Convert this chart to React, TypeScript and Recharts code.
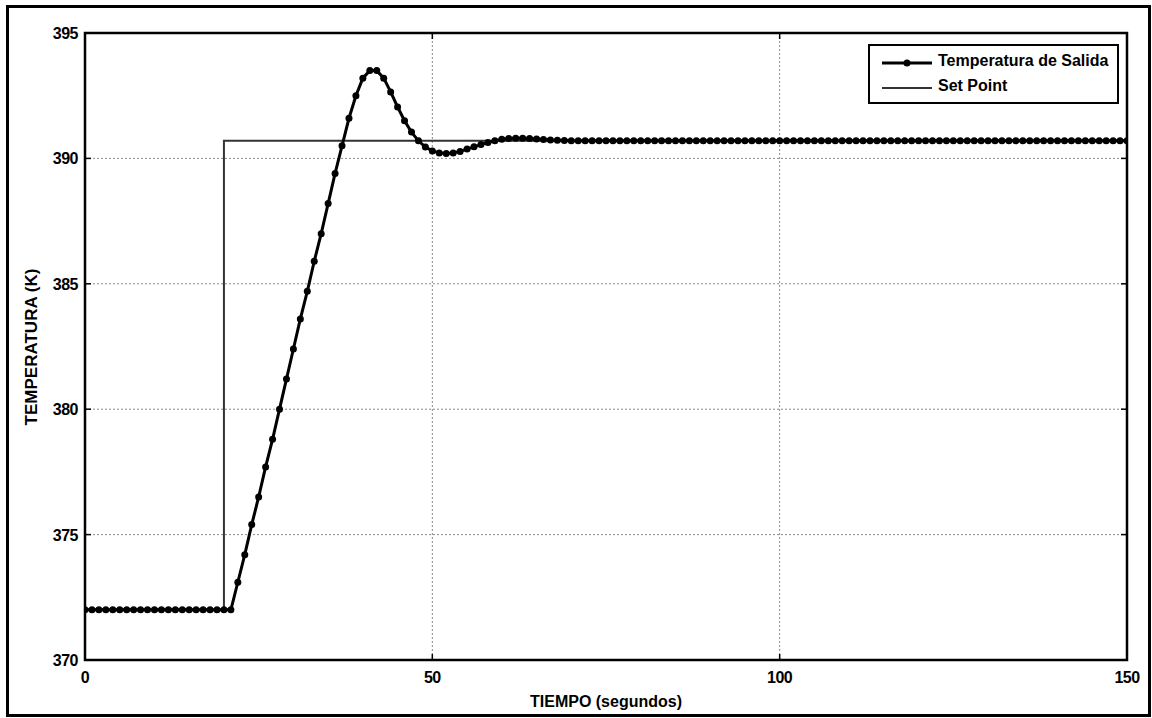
import React from "react";
import {
  LineChart,
  Line,
  XAxis,
  YAxis,
  CartesianGrid,
  Legend,
  ReferenceArea,
} from "recharts";

// Salida del reactor muestreada cada segundo, t = 0 … 150 s
const temperaturaSalida = [
  372, 372, 372, 372, 372, 372, 372, 372, 372, 372,
  372, 372, 372, 372, 372, 372, 372, 372, 372, 372,
  372, 372, 373.1, 374.2, 375.4, 376.5, 377.7, 378.8, 380.0, 381.2,
  382.4, 383.6, 384.7, 385.9, 387.0, 388.2, 389.4, 390.5, 391.6, 392.5,
  393.2, 393.5, 393.5, 393.2, 392.65, 392.05, 391.5, 391.05, 390.7, 390.45,
  390.3, 390.22, 390.2, 390.22, 390.28, 390.37, 390.46, 390.55, 390.63, 390.7,
  390.76, 390.79, 390.8, 390.8, 390.79, 390.77, 390.75, 390.73, 390.72, 390.71,
  390.7, 390.7, 390.7, 390.7, 390.7, 390.7, 390.7, 390.7, 390.7, 390.7,
  390.7, 390.7, 390.7, 390.7, 390.7, 390.7, 390.7, 390.7, 390.7, 390.7,
  390.7, 390.7, 390.7, 390.7, 390.7, 390.7, 390.7, 390.7, 390.7, 390.7,
  390.7, 390.7, 390.7, 390.7, 390.7, 390.7, 390.7, 390.7, 390.7, 390.7,
  390.7, 390.7, 390.7, 390.7, 390.7, 390.7, 390.7, 390.7, 390.7, 390.7,
  390.7, 390.7, 390.7, 390.7, 390.7, 390.7, 390.7, 390.7, 390.7, 390.7,
  390.7, 390.7, 390.7, 390.7, 390.7, 390.7, 390.7, 390.7, 390.7, 390.7,
  390.7, 390.7, 390.7, 390.7, 390.7, 390.7, 390.7, 390.7, 390.7, 390.7,
  390.7,
];

// escalón de referencia
const setPointTiempo = [0, 20, 150];
const setPointValor = [372, 390.7, 390.7];

const xTicks = [0, 50, 100, 150];
const yTicks = [370, 375, 380, 385, 390, 395];

const salidaData = temperaturaSalida.map((v, i) => ({ t: i, temp: v }));
const setPointData = setPointTiempo.map((t, i) => ({ t, sp: setPointValor[i] }));

const FONT = "'Liberation Sans', Arial, Helvetica, sans-serif";
const PLOT = { left: 85, top: 33, right: 1127, bottom: 660 };
const TICK_LEN = 6;

// ticks hacia dentro en los cuatro lados, estilo MATLAB
const YTick = ({ y, payload }: any) => (
  <g>
    <line x1={PLOT.left} x2={PLOT.left + TICK_LEN} y1={y} y2={y} stroke="#000" strokeWidth={1.5} />
    <line x1={PLOT.right - TICK_LEN} x2={PLOT.right} y1={y} y2={y} stroke="#000" strokeWidth={1.5} />
    <text
      x={PLOT.left - 7}
      y={y}
      dy={6}
      textAnchor="end"
      fontFamily={FONT}
      fontSize={16}
      fontWeight="bold"
      letterSpacing={-0.5}
      fill="#000"
    >
      {payload.value}
    </text>
  </g>
);

const XTick = ({ x, payload }: any) => (
  <g>
    <line x1={x} x2={x} y1={PLOT.bottom} y2={PLOT.bottom - TICK_LEN} stroke="#000" strokeWidth={1.5} />
    <line x1={x} x2={x} y1={PLOT.top} y2={PLOT.top + TICK_LEN} stroke="#000" strokeWidth={1.5} />
    <text
      x={x}
      y={PLOT.bottom + 23}
      textAnchor="middle"
      fontFamily={FONT}
      fontSize={16}
      fontWeight="bold"
      letterSpacing={-0.5}
      fill="#000"
    >
      {payload.value}
    </text>
  </g>
);

const LegendBox = () => (
  <div
    style={{
      position: "relative",
      width: 251,
      height: 60,
      boxSizing: "border-box",
      border: "2px solid #000",
      background: "#fff",
      fontFamily: FONT,
      fontSize: 16,
      fontWeight: "bold",
      color: "#000",
    }}
  >
    <svg width={60} height={60} style={{ position: "absolute", left: 10, top: 0 }}>
      <line x1={2} x2={52} y1={17} y2={17} stroke="#000" strokeWidth={3} />
      <circle cx={27} cy={17} r={3.5} fill="#000" />
      <line x1={2} x2={52} y1={42} y2={42} stroke="#333" strokeWidth={2} />
    </svg>
    <div style={{ position: "absolute", left: 68, top: 6, whiteSpace: "nowrap" }}>
      Temperatura de Salida
    </div>
    <div style={{ position: "absolute", left: 68, top: 31, whiteSpace: "nowrap" }}>
      Set Point
    </div>
  </div>
);

export default function App() {
  return (
    <div
      style={{
        position: "absolute",
        left: 0,
        top: 0,
        width: 1152,
        height: 718,
        background: "#fff",
        overflow: "hidden",
      }}
    >
      <LineChart
        width={1152}
        height={718}
        margin={{ top: PLOT.top, right: 1152 - PLOT.right, bottom: 28, left: 25 }}
      >
        <CartesianGrid
          stroke="#8a8a8a"
          strokeDasharray="2 2"
          strokeWidth={1}
        />
        <XAxis
          type="number"
          dataKey="t"
          domain={[0, 150]}
          ticks={xTicks}
          height={30}
          axisLine={false}
          tickLine={false}
          tick={<XTick />}
          allowDataOverflow
        />
        <YAxis
          type="number"
          domain={[370, 395]}
          ticks={yTicks}
          width={60}
          axisLine={false}
          tickLine={false}
          tick={<YTick />}
          allowDataOverflow
        />
        <ReferenceArea
          x1={0}
          x2={150}
          y1={370}
          y2={395}
          fill="none"
          stroke="#000"
          strokeWidth={2.5}
          ifOverflow="visible"
        />
        <Line
          data={setPointData}
          dataKey="sp"
          type="stepAfter"
          stroke="#333"
          strokeWidth={2}
          dot={false}
          name="Set Point"
          isAnimationActive={false}
        />
        <Line
          data={salidaData}
          dataKey="temp"
          type="linear"
          stroke="#000"
          strokeWidth={3}
          dot={{ r: 3.5, fill: "#000", stroke: "#000", strokeWidth: 0 }}
          name="Temperatura de Salida"
          isAnimationActive={false}
        />
        <Legend
          layout="vertical"
          align="center"
          verticalAlign="middle"
          content={<LegendBox />}
          wrapperStyle={{ position: "absolute", left: 868, top: 44, width: 251, height: 60 }}
        />
      </LineChart>

      {/* títulos de ejes */}
      <div
        style={{
          position: "absolute",
          left: 456,
          width: 300,
          top: 693,
          textAlign: "center",
          fontFamily: FONT,
          fontSize: 16,
          fontWeight: "bold",
          lineHeight: "18px",
        }}
      >
        TIEMPO (segundos)
      </div>
      <div
        style={{
          position: "absolute",
          left: 32,
          top: 347,
          transform: "translate(-50%, -50%) rotate(-90deg)",
          whiteSpace: "nowrap",
          fontFamily: FONT,
          fontSize: 17,
          fontWeight: "bold",
          lineHeight: "18px",
        }}
      >
        TEMPERATURA (K)
      </div>

      {/* marco exterior */}
      <div
        style={{
          position: "absolute",
          left: 6,
          top: 5,
          width: 1145,
          height: 712,
          boxSizing: "border-box",
          border: "3px solid #000",
          pointerEvents: "none",
        }}
      />
    </div>
  );
}
